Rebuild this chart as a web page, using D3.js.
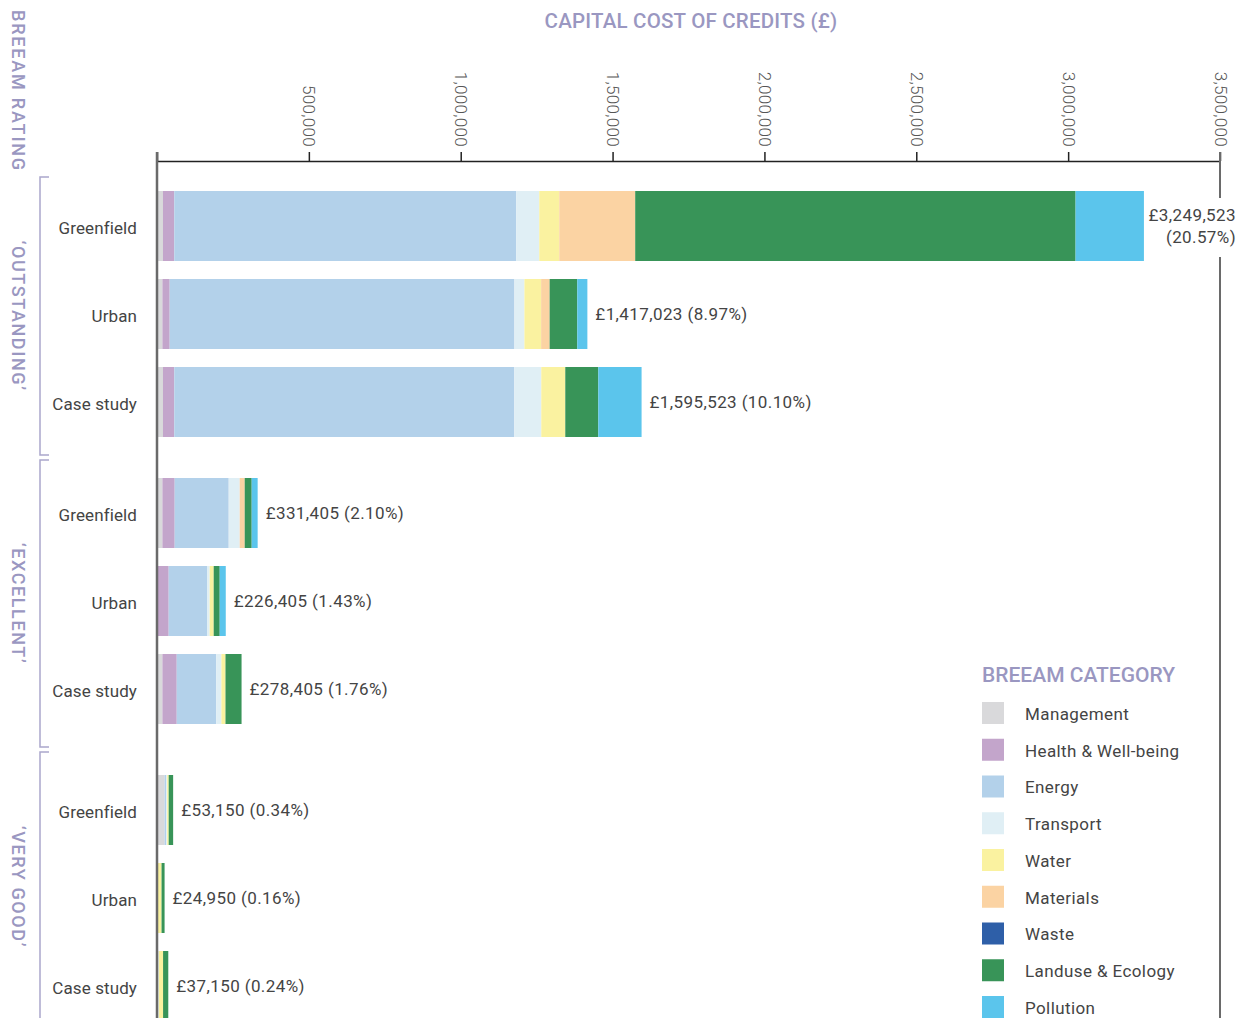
<!DOCTYPE html>
<html>
<head>
<meta charset="utf-8">
<script src="https://cdn.jsdelivr.net/npm/d3@7"></script>
<style>
  body { margin: 0; background: #fff; }
  svg text { font-family: Roboto, "Noto Sans", sans-serif; }
</style>
</head>
<body>
<svg id="chart" width="1244" height="1018"></svg>
<script>
// ---------------- DATA ----------------
const ratings = ["‘OUTSTANDING’", "‘EXCELLENT’", "‘VERY GOOD’"];
const sites = ["Greenfield", "Urban", "Case study"];
const categories = ["Management", "Health & Well-being", "Energy", "Transport", "Water",
                    "Materials", "Waste", "Landuse & Ecology", "Pollution"];
const colors = ["#d9d9db", "#c3a5cb", "#b3d1ea", "#e0eff5", "#faf2a0",
                "#fbd3a3", "#2e5fa8", "#389458", "#5bc5ec"];
// rows: Outstanding (G,U,C), Excellent (G,U,C), Very good (G,U,C)
const management = [19700, 17800, 19700, 17800, 0, 17800, 25000, 0, 0];
const health     = [37200, 24000, 37200, 40500, 38500, 47200, 0, 0, 0];
const energy     = [1126000, 1135000, 1119500, 177800, 126100, 130000, 5500, 0, 0];
const transport  = [75700, 33000, 88900, 36200, 8900, 17000, 3000, 0, 6000];
const water      = [65900, 55000, 79000, 0, 13200, 13500, 5000, 15000, 14000];
const materials  = [250000, 28000, 0, 16500, 0, 0, 0, 0, 0];
const waste      = [0, 0, 0, 0, 0, 0, 0, 0, 0];
const landuse    = [1450000, 91000, 108700, 23000, 19800, 52905, 14650, 9950, 17150];
const pollution  = [225023, 33223, 142523, 19605, 19905, 0, 0, 0, 0];
const percents   = ["20.57%", "8.97%", "10.10%", "2.10%", "1.43%", "1.76%", "0.34%", "0.16%", "0.24%"];
const tickValues = [0, 500000, 1000000, 1500000, 2000000, 2500000, 3000000, 3500000];

// ---------------- LAYOUT ----------------
const svg = d3.select("#chart");
const lav = "#9a97c1";
const textCol = "#444";
const series = [management, health, energy, transport, water, materials, waste, landuse, pollution];
const labelSize = "17px";
const labelSpacing = "0.4px";

const rows = [];
ratings.forEach((r, gi) => sites.forEach((s, si) => {
  const i = gi * 3 + si;
  const row = { rating: r, site: s, idx: i };
  categories.forEach((c, ci) => row[c] = series[ci][i]);
  row.total = d3.sum(series, a => a[i]);
  rows.push(row);
}));

const x = d3.scaleLinear().domain([0, 3500000]).range([157, 1220]);
const groupTop = d3.scaleOrdinal().domain(ratings).range([191, 478, 775]);
const yRow = d3.scaleBand().domain(sites).range([0, 246]).paddingInner(18 / 88).paddingOuter(0);
const yTop = d => groupTop(d.rating) + yRow(d.site);
const bw = yRow.bandwidth();

// Title
svg.append("text").attr("x", 691).attr("y", 21).attr("dy", "0.35em")
  .attr("text-anchor", "middle").attr("fill", lav)
  .style("font-size", "20.5px").style("font-weight", 500).style("letter-spacing", "0.2px")
  .text("CAPITAL COST OF CREDITS (£)");

// Stacked bars
const stack = d3.stack().keys(categories);
const stacked = stack(rows);
const color = d3.scaleOrdinal().domain(categories).range(colors);

svg.append("g").selectAll("g").data(stacked).join("g")
  .attr("fill", d => color(d.key))
  .selectAll("rect").data(d => d).join("rect")
  .attr("x", d => x(d[0]))
  .attr("width", d => Math.max(0, x(d[1]) - x(d[0])))
  .attr("y", d => yTop(d.data))
  .attr("height", bw);

// Top axis
const axis = d3.axisTop(x).tickValues(tickValues).tickSize(9).tickSizeOuter(0)
  .tickFormat(d => d === 0 ? "" : d3.format(",")(d));
const ag = svg.append("g").attr("transform", "translate(0,161)").call(axis);
ag.select(".domain").attr("stroke", "#222").attr("stroke-width", 1.5);
ag.selectAll(".tick line").attr("stroke", "#222").attr("stroke-width", 1.5);
ag.selectAll(".tick text")
  .attr("x", -14).attr("y", 0).attr("dy", "0.35em")
  .attr("transform", "rotate(90)")
  .style("text-anchor", "end")
  .style("font-size", "17px").style("font-weight", 300).style("letter-spacing", "0.3px")
  .attr("fill", "#555");

// Vertical frame lines
svg.append("line").attr("x1", x(0)).attr("x2", x(0)).attr("y1", 152).attr("y2", 1018)
  .attr("stroke", "#6a6a6a").attr("stroke-width", 2.5);
svg.append("line").attr("x1", x(3500000)).attr("x2", x(3500000)).attr("y1", 152).attr("y2", 1018)
  .attr("stroke", "#6a6a6a").attr("stroke-width", 2);

// Site labels
svg.append("g").selectAll("text").data(rows).join("text")
  .attr("x", 137).attr("y", d => yTop(d) + bw / 2 + 2).attr("dy", "0.35em")
  .attr("text-anchor", "end").attr("fill", textCol)
  .style("font-size", labelSize).style("letter-spacing", "0.1px")
  .text(d => d.site);

// Value labels
const fmt = d3.format(",");
const vl = svg.append("g");
rows.forEach(d => {
  const cy = yTop(d) + bw / 2;
  const label = "£" + fmt(d.total) + " (" + percents[d.idx] + ")";
  const t = vl.append("text").attr("x", x(d.total) + 8).attr("y", cy).attr("dy", "0.35em")
    .attr("fill", textCol).style("font-size", labelSize).style("letter-spacing", labelSpacing)
    .text(label);
  if (x(d.total) + 8 + t.node().getComputedTextLength() > 1240) {
    t.remove();
    const right = 1236;
    vl.append("rect").attr("x", x(d.total) + 2).attr("y", cy - 28)
      .attr("width", 1244 - x(d.total) - 2).attr("height", 59).attr("fill", "#fff");
    vl.append("text").attr("x", right).attr("y", cy - 11).attr("dy", "0.35em")
      .attr("text-anchor", "end").attr("fill", textCol)
      .style("font-size", labelSize).style("letter-spacing", labelSpacing)
      .text("£" + fmt(d.total));
    vl.append("text").attr("x", right).attr("y", cy + 11).attr("dy", "0.35em")
      .attr("text-anchor", "end").attr("fill", textCol)
      .style("font-size", labelSize).style("letter-spacing", labelSpacing)
      .text("(" + percents[d.idx] + ")");
  }
});

// Rating brackets and labels
svg.append("text").attr("transform", "translate(18,91) rotate(90)")
  .attr("dy", "0.35em").attr("text-anchor", "middle").attr("fill", lav)
  .style("font-size", "18px").style("font-weight", 500).style("letter-spacing", "1.8px")
  .text("BREEAM RATING");

ratings.forEach((r, i) => {
  const T = groupTop(r), B = T + 246;
  const top = i === 0 ? T - 14 : (groupTop(ratings[i - 1]) + 246 + T) / 2 + 2.5;
  const bot = i === ratings.length - 1 ? B + 1 : (B + groupTop(ratings[i + 1])) / 2 - 2.5;
  svg.append("path").attr("d", `M49,${top}H40V${bot}H49`)
    .attr("fill", "none").attr("stroke", "#aaa7cc").attr("stroke-width", 1.5);
  svg.append("text").attr("transform", `translate(18,${(top + bot) / 2}) rotate(90)`)
    .attr("dy", "0.35em").attr("text-anchor", "middle").attr("fill", lav)
    .style("font-size", "18px").style("font-weight", 500).style("letter-spacing", "1.6px")
    .text(r);
});

// Legend
const lg = svg.append("g");
lg.append("text").attr("x", 982).attr("y", 675).attr("dy", "0.35em").attr("fill", lav)
  .style("font-size", "21px").style("font-weight", 500).text("BREEAM CATEGORY");
const ly = d3.scalePoint().domain(categories).range([713, 1007]);
const items = lg.selectAll("g.item").data(categories).join("g").attr("class", "item")
  .attr("transform", d => `translate(982,${ly(d)})`);
items.append("rect").attr("x", 0).attr("y", -11).attr("width", 22).attr("height", 22)
  .attr("fill", d => color(d));
items.append("text").attr("x", 43).attr("y", 1).attr("dy", "0.35em").attr("fill", textCol)
  .style("font-size", labelSize).style("letter-spacing", labelSpacing).text(d => d);
</script>
</body>
</html>
